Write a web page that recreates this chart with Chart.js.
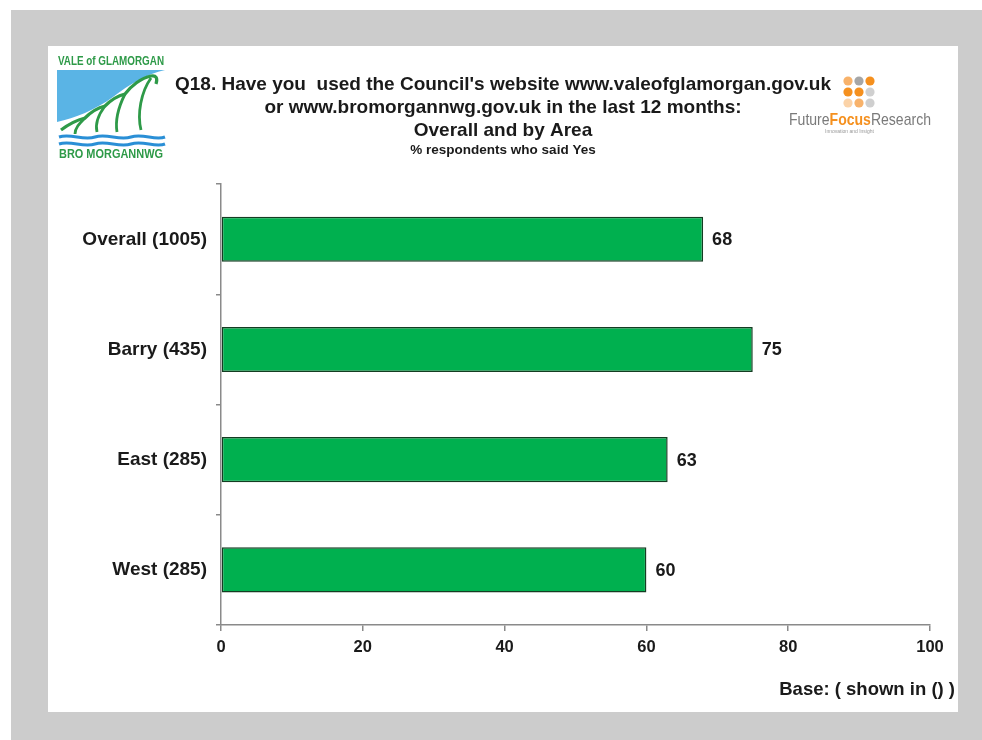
<!DOCTYPE html>
<html>
<head>
<meta charset="utf-8">
<script src="https://cdn.jsdelivr.net/npm/chart.js@4.4.1/dist/chart.umd.min.js"></script>
<style>
  body { margin: 0; background: #fff; font-family: "Liberation Sans", Arial, sans-serif; }
  #frame { position: absolute; left: 11px; top: 10px; width: 971px; height: 730px; background: #cccccc; }
  #panel { position: absolute; left: 48px; top: 46px; width: 910px; height: 666px; background: #fff; }
  #chart { position: absolute; left: 0; top: 0; }
  .logo { position: absolute; }
</style>
</head>
<body>
<div id="frame"></div>
<div id="panel">
  <canvas id="chart" width="910" height="666"></canvas>
</div>

<!-- council logo, top left -->
<svg class="logo" style="left:55px;top:54px" width="112" height="106" viewBox="0 0 112 106">
  <text x="56" y="11" text-anchor="middle" font-family="Liberation Sans Narrow, Liberation Sans" font-weight="bold" font-size="12" fill="#2e9a48" textLength="106" lengthAdjust="spacingAndGlyphs">VALE of GLAMORGAN</text>
  <rect x="2" y="16" width="108" height="72" fill="#5ab4e5"/>
  <path d="M2 88 L2 68 C20 64 40 56 58 43 C75 30 92 20 110 16 L110 88 Z" fill="#fff"/>
  <path d="M6 76 C14 70 22 66 30 64 C36 58 42 54 50 52 C56 46 62 42 70 40 C76 32 86 24 96 22 C101 21 103 24 101 30"
        stroke="#2e9a48" stroke-width="3.2" fill="none"/>
  <path d="M20 80 C20 74 24 70 30 64 M42 78 C40 70 44 60 50 52 M62 78 C60 66 64 52 70 40 M86 76 C82 60 86 38 96 24"
        stroke="#2e9a48" stroke-width="2.8" fill="none"/>
  <path d="M4 83 C16 79 28 87 40 83 C52 79 64 87 76 83 C88 79 100 87 110 83" stroke="#2a8fd6" stroke-width="3" fill="none"/>
  <path d="M4 90 C16 86 28 94 40 90 C52 86 64 94 76 90 C88 86 100 94 110 90" stroke="#2a8fd6" stroke-width="3" fill="none"/>
  <text x="56" y="104" text-anchor="middle" font-family="Liberation Sans Narrow, Liberation Sans" font-weight="bold" font-size="12" fill="#2e9a48" textLength="104" lengthAdjust="spacingAndGlyphs">BRO MORGANNWG</text>
</svg>

<!-- research company logo, top right -->
<svg class="logo" style="left:786px;top:72px" width="150" height="66" viewBox="0 0 150 66">
  <circle cx="62" cy="9" r="4.6" fill="#f8b26a"/>
  <circle cx="73" cy="9" r="4.6" fill="#a6a6a6"/>
  <circle cx="84" cy="9" r="4.6" fill="#f5901e"/>
  <circle cx="62" cy="20" r="4.6" fill="#f5901e"/>
  <circle cx="73" cy="20" r="4.6" fill="#f5901e"/>
  <circle cx="84" cy="20" r="4.6" fill="#d0d0d0"/>
  <circle cx="62" cy="31" r="4.6" fill="#fbd3a8"/>
  <circle cx="73" cy="31" r="4.6" fill="#f8b26a"/>
  <circle cx="84" cy="31" r="4.6" fill="#cfcfcf"/>
  <text x="3" y="53" font-family="Liberation Sans Narrow, Liberation Sans" font-size="17" fill="#7a7a7a" textLength="142" lengthAdjust="spacingAndGlyphs">Future<tspan fill="#f5901e" font-weight="bold">Focus</tspan>Research</text>
  <text x="39" y="61" font-family="Liberation Sans" font-size="5" fill="#999">Innovation and Insight</text>
</svg>

<script>
// categories and % saying Yes
const areas = ['Overall (1005)', 'Barry (435)', 'East (285)', 'West (285)'];
const yesPct = [68, 75, 63, 60];
const xTicks = [0, 20, 40, 60, 80, 100];

const titleLines = [
  "Q18. Have you  used the Council's website www.valeofglamorgan.gov.uk",
  'or www.bromorgannwg.gov.uk in the last 12 months:',
  'Overall and by Area'
];
const subTitle = '% respondents who said Yes';
const baseNote = 'Base: ( shown in () )';

const FONT = '"Liberation Sans", Arial, sans-serif';

// value at the end of each bar
const barValues = {
  id: 'barValues',
  afterDatasetsDraw(chart) {
    const ctx = chart.ctx;
    const meta = chart.getDatasetMeta(0);
    ctx.save();
    ctx.font = 'bold 18px ' + FONT;
    ctx.fillStyle = '#1a1a1a';
    ctx.textAlign = 'left';
    ctx.textBaseline = 'middle';
    meta.data.forEach((bar, i) => {
      ctx.fillText(yesPct[i], bar.x + 9, bar.y + 1);
    });
    ctx.restore();
  }
};

// base note under the x axis, bottom right
const baseText = {
  id: 'baseText',
  afterDraw(chart) {
    const ctx = chart.ctx;
    ctx.save();
    ctx.font = 'bold 18.5px ' + FONT;
    ctx.fillStyle = '#1a1a1a';
    ctx.textAlign = 'right';
    ctx.textBaseline = 'middle';
    ctx.fillText(baseNote, chart.width - 3, chart.height - 22);
    ctx.restore();
  }
};

new Chart(document.getElementById('chart'), {
  type: 'bar',
  data: {
    labels: areas,
    datasets: [{
      data: yesPct,
      backgroundColor: '#00b04f',
      borderColor: '#143d22',
      borderWidth: 1.5,
      borderSkipped: false,
      categoryPercentage: 1,
      barPercentage: 0.41
    }]
  },
  options: {
    indexAxis: 'y',
    responsive: false,
    animation: false,
    // equal side padding keeps the title centred on the panel
    layout: { padding: { top: 0, right: 28, bottom: 0, left: 28 } },
    plugins: {
      legend: { display: false },
      tooltip: { enabled: false },
      title: {
        display: true,
        text: titleLines,
        color: '#1a1a1a',
        font: { family: FONT, size: 19, weight: 'bold', lineHeight: 1.21 },
        padding: { top: 27, bottom: 2 }
      },
      subtitle: {
        display: true,
        text: subTitle,
        color: '#1a1a1a',
        font: { family: FONT, size: 13.5, weight: 'bold', lineHeight: 1 },
        padding: { top: 0, bottom: 26.7 }
      }
    },
    scales: {
      x: {
        min: 0,
        max: 100,
        afterBuildTicks: (s) => { s.ticks = xTicks.map(v => ({ value: v })); },
        afterFit: (s) => { s.height = 87; },
        border: { display: true, color: '#8a8a8a', width: 1.5 },
        grid: { drawOnChartArea: false, drawTicks: true, tickLength: 6, color: '#8a8a8a', lineWidth: 1.5 },
        ticks: { color: '#1a1a1a', padding: 7, font: { family: FONT, size: 16.5, weight: 'bold' } }
      },
      y: {
        afterFit: (s) => { s.width = 145; },
        border: { display: true, color: '#8a8a8a', width: 1.5 },
        grid: { offset: true, drawOnChartArea: false, drawTicks: true, tickLength: 5, color: '#8a8a8a', lineWidth: 1.5 },
        ticks: { color: '#1a1a1a', padding: 9, font: { family: FONT, size: 19, weight: 'bold' } }
      }
    }
  },
  plugins: [barValues, baseText]
});
</script>
</body>
</html>
